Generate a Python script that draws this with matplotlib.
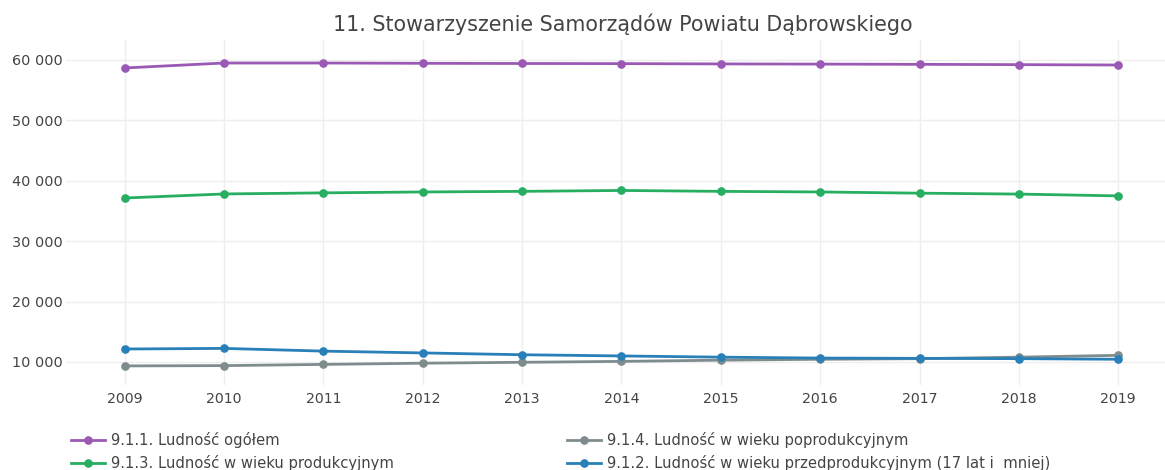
import matplotlib
matplotlib.use("Agg")
import matplotlib.pyplot as plt
from matplotlib.ticker import FuncFormatter

years = [2009, 2010, 2011, 2012, 2013, 2014, 2015, 2016, 2017, 2018, 2019]
ogolem = [58680, 59500, 59500, 59450, 59420, 59400, 59350, 59320, 59280, 59230, 59170]
produkcyjny = [37150, 37820, 38000, 38150, 38250, 38400, 38250, 38150, 37950, 37800, 37500]
poprodukcyjny = [9350, 9400, 9600, 9800, 9950, 10100, 10300, 10450, 10550, 10800, 11100]
przedprodukcyjny = [12150, 12250, 11800, 11500, 11200, 11000, 10800, 10650, 10600, 10550, 10450]

labels = {
    "og": "9.1.1. Ludność ogółem",
    "pr": "9.1.3. Ludność w wieku produkcyjnym",
    "po": "9.1.4. Ludność w wieku poprodukcyjnym",
    "pz": "9.1.2. Ludność w wieku przedprodukcyjnym (17 lat i  mniej)",
}
title = "11. Stowarzyszenie Samorządów Powiatu Dąbrowskiego"

W, H = 1165, 470
fig = plt.figure(figsize=(W / 100, H / 100), dpi=100)
ax = fig.add_axes([66 / W, 85 / H, (W - 66) / W, (385 - 40) / H])

kw = dict(linewidth=2, marker="o", markersize=5.2)
l_po, = ax.plot(years, poprodukcyjny, color="#7f8c8d", **kw, label=labels["po"])
l_pz, = ax.plot(years, przedprodukcyjny, color="#2980b9", **kw, label=labels["pz"])
l_pr, = ax.plot(years, produkcyjny, color="#27ae60", **kw, label=labels["pr"])
l_og, = ax.plot(years, ogolem, color="#9b59b6", **kw, label=labels["og"])

ax.set_xlim(2008.41, 2019.47)
ax.set_ylim(6190, 63310)
ax.set_xticks(years)
ax.set_yticks([10000, 20000, 30000, 40000, 50000, 60000])
ax.yaxis.set_major_formatter(FuncFormatter(lambda v, p: f"{int(v):,}".replace(",", " ")))
ax.grid(True, color="#eeeeee", linewidth=1)
for s in ax.spines.values():
    s.set_visible(False)
ax.tick_params(length=0, colors="#444444")
ax.tick_params(axis="x", pad=5, labelsize=10.2)
ax.tick_params(axis="y", pad=2.5, labelsize=10.4)

fig.text(623 / W, 1 - 24 / H, title, ha="center", va="center", fontsize=14.9, color="#444444")

lkw = dict(frameon=False, fontsize=10.6, handlelength=2.3, handletextpad=0.4,
           labelspacing=0.5, borderaxespad=0, borderpad=0, labelcolor="#444444")
leg1 = fig.legend([l_og, l_pr], [labels["og"], labels["pr"]],
                  loc="upper left", bbox_to_anchor=(71 / W, 1 - 432 / H), **lkw)
leg2 = fig.legend([l_po, l_pz], [labels["po"], labels["pz"]],
                  loc="upper left", bbox_to_anchor=(567 / W, 1 - 432 / H), **lkw)

fig.savefig("out.png", dpi=100, facecolor="white")
